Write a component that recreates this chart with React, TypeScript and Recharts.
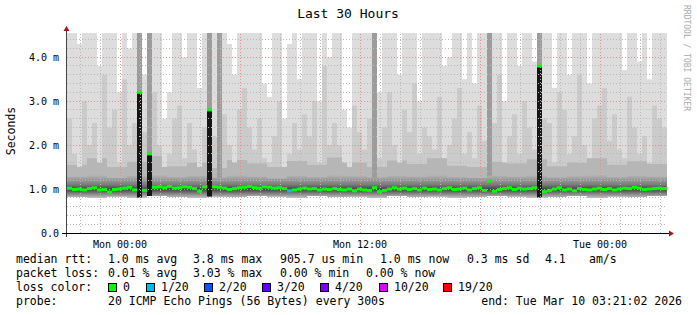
import React from "react";
import {
  ComposedChart,
  Area,
  Scatter,
  XAxis,
  YAxis,
  ReferenceLine,
} from "recharts";

// SmokePing "Last 30 Hours" — 15 minute slots, 120 of them
const MONO = "DejaVu Sans Mono";

const maxRtt = [
  4.55, 4.55, 4.3, 4.55, 4.55, 4.55, 3.8, 4.55, 4.55, 4.55, 3.2, 4.55,
  4.2, 4.55, 4.55, 3.6, 4.55, 4.55, 4.55, 2.6, 3.2, 4.55, 4.55, 4.0,
  4.55, 4.55, 3.3, 4.55, 4.55, 4.55, 4.55, 4.55, 4.3, 3.6, 4.55, 4.55,
  4.55, 4.55, 4.55, 3.4, 3.1, 4.55, 4.55, 2.6, 4.3, 4.55, 3.5, 4.55,
  4.55, 4.55, 3.0, 4.55, 4.0, 4.55, 4.55, 2.8, 2.4, 4.55, 4.55, 4.55,
  4.55, 4.55, 3.2, 4.55, 4.55, 4.55, 3.6, 4.55, 4.55, 4.55, 3.0, 4.55,
  4.55, 4.55, 4.55, 3.8, 4.0, 4.55, 4.55, 3.5, 4.55, 3.4, 4.55, 4.55,
  4.55, 4.55, 4.55, 3.0, 4.55, 4.55, 3.8, 4.55, 4.55, 3.9, 4.55, 4.55,
  4.55, 3.3, 4.55, 4.55, 3.6, 4.55, 4.55, 4.55, 3.4, 4.55, 4.55, 4.55,
  4.55, 4.55, 4.55, 3.7, 4.55, 4.55, 3.9, 4.55, 3.5, 4.55, 4.55, 4.55,
];

const midRtt = [
  2.6, 1.8, 1.5, 3.0, 2.0, 2.5, 1.6, 3.6, 2.4, 2.8, 1.6, 3.5,
  2.0, 2.5, 4.55, 2.3, 4.55, 3.2, 2.0, 1.5, 1.8, 2.6, 2.9, 1.7,
  2.5, 1.9, 1.5, 2.4, 4.55, 2.2, 4.55, 2.7, 2.0, 1.6, 2.8, 3.3,
  2.4, 1.9, 2.6, 1.7, 1.6, 2.2, 3.0, 1.5, 1.8, 2.5, 1.9, 2.7,
  2.2, 3.0, 1.6, 3.8, 2.0, 2.5, 2.0, 1.6, 1.5, 2.9, 2.3, 1.9,
  2.6, 4.55, 1.7, 2.4, 3.2, 2.0, 1.6, 2.8, 2.3, 3.4, 1.8, 2.4,
  2.2, 1.9, 3.1, 1.7, 2.0, 2.6, 3.3, 1.8, 2.3, 1.7, 2.9, 2.1,
  4.55, 2.5, 3.6, 1.6, 2.2, 2.7, 1.8, 3.0, 2.4, 1.9, 4.55, 2.6,
  2.5, 1.6, 3.2, 2.8, 1.8, 2.2, 3.6, 2.0, 1.7, 2.6, 2.9, 3.3,
  2.1, 2.7, 1.9, 1.7, 3.1, 2.4, 1.8, 2.2, 1.6, 2.9, 2.6, 2.4,
];

const median = [
  1.02, 0.99, 1.0, 0.98, 1.01, 1.03, 0.98, 0.99, 0.93, 0.99, 1.0, 1.02,
  1.04, 0.98, 3.2, 0.97, 1.8, 1.04, 1.05, 1.03, 1.06, 1.02, 1.03, 1.05,
  1.04, 1.01, 0.95, 1.05, 2.8, 1.05, 1.04, 1.02, 0.99, 1.01, 1.03, 1.04,
  1.06, 1.03, 1.02, 1.05, 1.04, 1.02, 1.03, 1.01, 0.96, 0.98, 1.0, 1.02,
  1.0, 1.01, 0.98, 1.0, 0.99, 1.01, 0.99, 0.98, 1.0, 0.96, 1.0, 0.98,
  0.97, 1.03, 0.94, 0.97, 1.0, 1.03, 1.0, 1.02, 0.99, 1.01, 0.98, 1.02,
  0.99, 1.0, 0.98, 1.01, 1.03, 0.99, 1.0, 1.02, 0.98, 1.01, 1.03, 0.97,
  1.18, 0.95, 0.99, 1.01, 1.03, 0.99, 1.02, 1.0, 1.01, 1.03, 3.8, 0.94,
  0.97, 1.0, 1.03, 0.98, 1.0, 0.96, 1.01, 0.99, 0.98, 1.0, 1.02, 0.99,
  1.01, 0.98, 1.0, 1.02, 1.01, 1.04, 1.02, 0.99, 1.0, 1.01, 1.02, 1.01,
];

// hourly lower edge of the smoke, top of the dense band, top of the near layer
const lowRtt = [
  0.82, 0.8, 0.83, 0.81, 0.84, 0.82, 0.8, 0.83, 0.82, 0.84, 0.83, 0.81,
  0.84, 0.82, 0.83, 0.8, 0.84, 0.82, 0.83, 0.81, 0.82, 0.84, 0.83, 0.81,
  0.82, 0.84, 0.8, 0.83, 0.82, 0.84,
];
const bandHi = [
  1.28, 1.32, 1.25, 1.3, 1.35, 1.27, 1.3, 1.26, 1.31, 1.28, 1.24, 1.3,
  1.27, 1.33, 1.29, 1.26, 1.3, 1.28, 1.32, 1.27, 1.25, 1.3, 1.28, 1.31,
  1.26, 1.29, 1.33, 1.27, 1.3, 1.28,
];
const nearHi = [
  1.55, 1.7, 1.5, 1.62, 1.75, 1.52, 1.6, 1.48, 1.66, 1.58, 1.5, 1.64,
  1.55, 1.72, 1.6, 1.5, 1.65, 1.57, 1.7, 1.53, 1.5, 1.62, 1.58, 1.68,
  1.52, 1.6, 1.7, 1.55, 1.63, 1.57,
];

const spikeSlots = [14, 16, 28, 94];
const spikeTops = [3.2, 1.8, 2.8, 3.8];
const darkSlots = [14, 16, 28, 30, 61, 84, 94];
const lossSlots = [44];
const lossCounts = [1];

const lossLabels = ["0", "1/20", "2/20", "3/20", "4/20", "10/20", "19/20"];
const lossColors = ["#00ff00", "#00b8ff", "#0059ff", "#5e00ff", "#7e00ff", "#dd00ff", "#ff0000"];

const tickHours = [2.65, 14.65, 26.65];
const tickLabels = ["Mon 00:00", "Mon 12:00", "Tue 00:00"];
const yTicks = [0, 1, 2, 3, 4];

const rows = maxRtt.map((mx, i) => {
  const hr = Math.floor(i / 4);
  const lo = lowRtt[hr];
  const si = spikeSlots.indexOf(i);
  const li = lossSlots.indexOf(i);
  return {
    t: i * 0.25,
    light: [lo, mx],
    mid: [lo, midRtt[i]],
    near: [lo, Math.min(nearHi[hr], midRtt[i])],
    dark: darkSlots.includes(i) ? [lo, mx] : [lo, lo],
    band: [lo, bandHi[hr]],
    spike: si >= 0 ? [lo, spikeTops[si]] : [lo, lo],
    median: median[i] as number | null,
    loss: li >= 0 ? lossCounts[li] : 0,
  };
});
rows.push({ ...rows[rows.length - 1], t: 30, median: null });

const hourLines = Array.from({ length: 30 }, (_, k) => ({ h: 0.65 + k, major: (k - 2) % 6 === 0 }));
const valueLines = Array.from({ length: 22 }, (_, k) => ({ v: (k + 1) * 0.2, major: (k + 1) % 5 === 0 }));

function MedianMark(props: any) {
  const { cx, cy, payload } = props;
  if (payload?.median == null || !isFinite(cy)) return <g />;
  return <rect x={cx} y={cy - 1.5} width={5} height={3} fill={lossColors[payload.loss]} />;
}

const row1: [string, number][] = [
  ["median rtt:", 16], ["1.0 ms avg", 108], ["3.8 ms max", 193], ["905.7 us min", 280],
  ["1.0 ms now", 380], ["0.3 ms sd", 467], ["4.1", 545], ["am/s", 589],
];
const row2: [string, number][] = [
  ["packet loss:", 16], ["0.01 % avg", 108], ["3.03 % max", 193], ["0.00 % min", 280], ["0.00 % now", 366],
];
const swatchX = [108, 146, 204, 262, 320, 379, 443];

export default function App() {
  const txt = { fontFamily: MONO, fontSize: 11.5, fill: "#000", whiteSpace: "pre" as const };
  return (
    <div style={{ position: "absolute", left: 0, top: 0, width: 697, height: 315, background: "#fff" }}>
      <ComposedChart
        width={697}
        height={315}
        data={rows}
        margin={{ top: 33, right: 30, bottom: 62, left: 8 }}
      >
        <defs>
          <linearGradient id="bandFill" x1="0" y1="0" x2="0" y2="1">
            <stop offset="0%" stopColor="#bdbdbd" />
            <stop offset="45%" stopColor="#7c7c7c" />
            <stop offset="65%" stopColor="#444444" />
            <stop offset="100%" stopColor="#c0c0c0" />
          </linearGradient>
        </defs>
        <XAxis
          type="number"
          dataKey="t"
          domain={[0, 30]}
          ticks={tickHours}
          tickFormatter={(v: number) => tickLabels[tickHours.indexOf(v)] ?? ""}
          axisLine={false}
          tickLine={false}
          height={20}
          tick={{ fontFamily: MONO, fontSize: 10, fill: "#000" }}
        />
        <YAxis
          type="number"
          domain={[0, 4.55]}
          allowDataOverflow
          ticks={yTicks}
          tickFormatter={(v: number) => (v === 0 ? "0.0" : `${v.toFixed(1)} m`)}
          axisLine={false}
          tickLine={false}
          width={59}
          tick={{ fontFamily: MONO, fontSize: 10, fill: "#000" }}
        />
        <Area type="stepAfter" dataKey="light" fill="#dddddd" fillOpacity={1} stroke="none" isAnimationActive={false} />
        <Area type="stepAfter" dataKey="mid" fill="#cbcbcb" fillOpacity={1} stroke="none" isAnimationActive={false} />
        <Area type="stepAfter" dataKey="near" fill="#b6b6b6" fillOpacity={1} stroke="none" isAnimationActive={false} />
        <Area type="stepAfter" dataKey="dark" fill="#9c9c9c" fillOpacity={1} stroke="none" isAnimationActive={false} />
        <Area type="stepAfter" dataKey="band" fill="url(#bandFill)" fillOpacity={1} stroke="none" isAnimationActive={false} />
        <Area type="stepAfter" dataKey="spike" fill="#151515" fillOpacity={1} stroke="none" isAnimationActive={false} />
        {hourLines.map((g) => (
          <ReferenceLine
            key={`h${g.h}`}
            x={g.h}
            stroke={g.major ? "#e09090" : "#b8b8b8"}
            strokeDasharray="1 2"
            shapeRendering="crispEdges"
          />
        ))}
        {valueLines.map((g) => (
          <ReferenceLine
            key={`v${g.v}`}
            y={g.v}
            stroke={g.major ? "#e09090" : "#b8b8b8"}
            strokeDasharray="1 2"
            shapeRendering="crispEdges"
          />
        ))}
        <Scatter dataKey="median" shape={MedianMark} isAnimationActive={false} />
      </ComposedChart>

      <svg width={697} height={315} style={{ position: "absolute", left: 0, top: 0, pointerEvents: "none" }}>
        <text x={348} y={18} textAnchor="middle" style={{ fontFamily: MONO, fontSize: 13, fill: "#000" }}>
          Last 30 Hours
        </text>
        <text
          transform="translate(15,131) rotate(-90)"
          textAnchor="middle"
          style={{ fontFamily: MONO, fontSize: 11.5, fill: "#000" }}
        >
          Seconds
        </text>
        <text
          transform="translate(684,5) rotate(90)"
          style={{ fontFamily: MONO, fontSize: 8, fill: "#aaaaaa" }}
        >
          RRDTOOL / TOBI OETIKER
        </text>

        <line x1={66.5} y1={30} x2={66.5} y2={237} stroke="#444" shapeRendering="crispEdges" />
        <line x1={62} y1={233.5} x2={670} y2={233.5} stroke="#000" shapeRendering="crispEdges" />
        <polygon points="63.5,31 69.5,31 66.5,26" fill="#a01818" />
        <polygon points="669,230.5 669,236.5 674,233.5" fill="#a01818" />

        {row1.map(([s, x]) => (
          <text key={s + x} x={x} y={263} style={txt}>{s}</text>
        ))}
        {row2.map(([s, x]) => (
          <text key={s + x} x={x} y={277} style={txt}>{s}</text>
        ))}
        <text x={16} y={291} style={txt}>loss color:</text>
        {lossLabels.map((lab, k) => (
          <g key={lab}>
            <rect x={swatchX[k] + 0.5} y={283.5} width={8} height={8} fill={lossColors[k]} stroke="#000" />
            <text x={swatchX[k] + 15} y={291} style={txt}>{lab}</text>
          </g>
        ))}
        <text x={16} y={305} style={txt}>probe:</text>
        <text x={108} y={305} style={txt}>20 ICMP Echo Pings (56 Bytes) every 300s</text>
        <text x={682} y={305} textAnchor="end" style={txt}>end: Tue Mar 10 03:21:02 2026</text>
      </svg>
    </div>
  );
}
